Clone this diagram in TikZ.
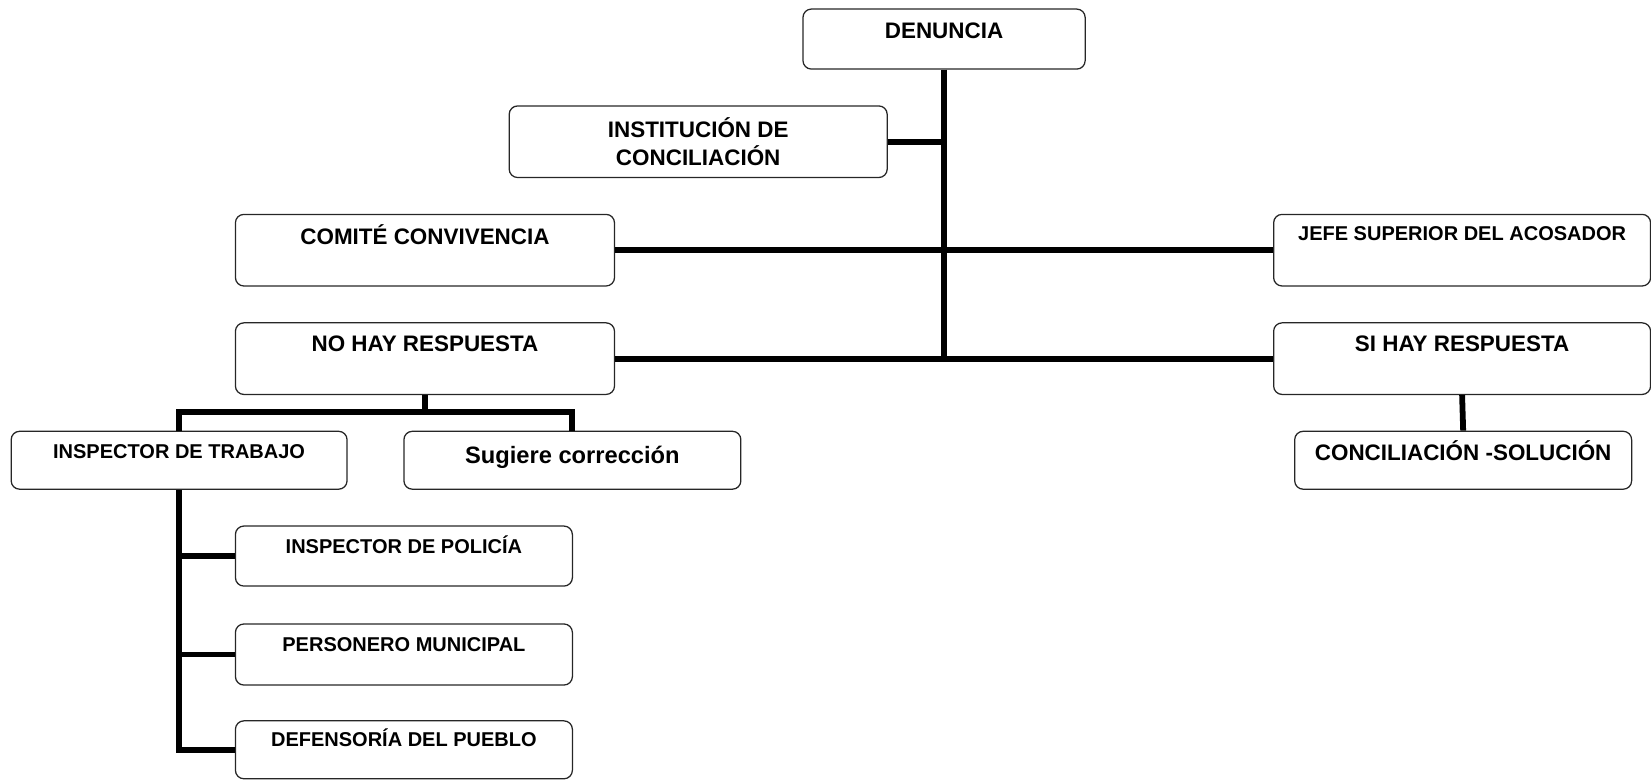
\documentclass[tikz,border=0pt]{standalone}
\usepackage{fontspec}
\setmainfont{Liberation Sans}
\usepackage{tikz}
\usetikzlibrary{positioning,calc}

\begin{document}
\begin{tikzpicture}[x=1pt,y=-1pt,
	caja/.style={draw=black!85,line width=1.2pt,rounded corners=8pt,anchor=north west,inner sep=0pt,align=center},
	grande/.style={font=\fontsize{21.3}{26}\selectfont\bfseries},
	chica/.style={font=\fontsize{19}{22}\selectfont\bfseries},
	rama/.style={line width=5.5pt}]
		\useasboundingbox (0,0) rectangle (1568,740);
		% nivel superior
		\node[caja,grande,minimum width=268pt,text height=27.6pt,text depth=29.4pt] (den) at (762,8) {DENUNCIA};
		\node[caja,grande,minimum width=359pt,minimum height=68pt] (inst) at (483,100) {INSTITUCIÓN DE\\CONCILIACIÓN};
		\node[caja,grande,minimum width=360pt,text height=28.6pt,text depth=39.4pt] (comite) at (223,203) {COMITÉ CONVIVENCIA};
		\node[caja,chica,minimum width=358pt,text height=24.8pt,text depth=43.2pt] (jefe) at (1209,203) {JEFE SUPERIOR DEL ACOSADOR};
		\node[caja,grande,minimum width=360pt,text height=27.6pt,text depth=40.4pt] (nohay) at (223,306) {NO HAY RESPUESTA};
		\node[caja,grande,minimum width=358pt,text height=27.6pt,text depth=40.4pt] (sihay) at (1209,306) {SI HAY RESPUESTA};
		% respuestas
		\node[caja,chica,minimum width=319pt,text height=25.8pt,text depth=29.2pt] (insp) at (10,409) {INSPECTOR DE TRABAJO};
		\node[caja,font=\fontsize{22.5}{26}\selectfont\bfseries,minimum width=320pt,text height=31pt,text depth=24pt] (sug) at (383,409) {Sugiere corrección};
		\node[caja,grande,minimum width=320pt,text height=27.6pt,text depth=27.4pt] (concil) at (1229,409) {CONCILIACIÓN -SOLUCIÓN};
		\node[caja,chica,minimum width=320pt,text height=25.8pt,text depth=31.2pt] (pol) at (223,499) {INSPECTOR DE POLICÍA};
		\node[caja,chica,minimum width=320pt,text height=25.8pt,text depth=32.2pt] (pers) at (223,592) {PERSONERO MUNICIPAL};
		\node[caja,chica,minimum width=320pt,text height=24.8pt,text depth=30.2pt] (defe) at (223,684) {DEFENSORÍA DEL PUEBLO};
		% conectores
		\draw[rama] (den.south) -- (den.south |- sihay.west);
		\draw[rama] (inst.east) -- (inst.east -| den.south);
		\draw[rama] (comite.east) -- (jefe.west);
		\draw[rama] (nohay.east) -- (sihay.west);
		\path (nohay.south) ++(0,16) coordinate (cruce);
		\draw[rama] (nohay.south) -- (cruce);
		\draw[rama] (insp.north) |- (cruce) -| (sug.north);
		\draw[rama] (sihay.south) -- (concil.north);
		\draw[rama] (insp.south) |- (defe.west);
		\draw[rama] (pol.west) -- (pol.west -| insp.south);
		\draw[rama] (pers.west) -- (pers.west -| insp.south);
\end{tikzpicture}
\end{document}
